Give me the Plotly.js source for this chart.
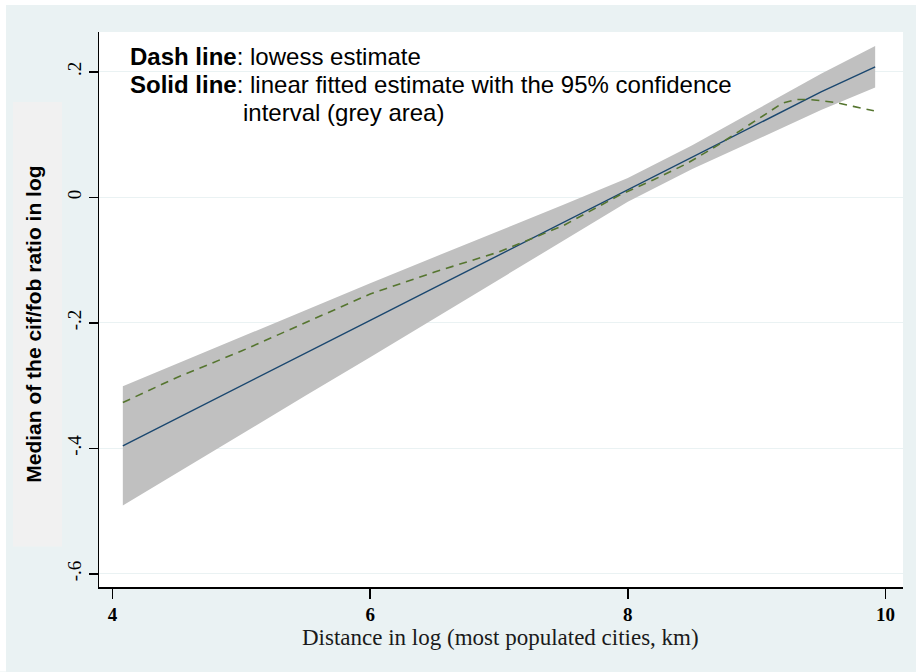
<!DOCTYPE html>
<html>
<head>
<meta charset="utf-8">
<script src="https://cdn.plot.ly/plotly-3.0.1.min.js"></script>
<style>
  html, body { margin: 0; padding: 0; background: #ffffff; }
  #chart { width: 916px; height: 672px; }
</style>
</head>
<body>
<div id="chart"></div>
<script>
// ---- data ----
var fitX      = [4.08, 4.5, 5.0, 5.5, 6.0, 6.5, 7.0, 7.5, 8.0, 8.5, 9.0, 9.5, 9.92];
var fitY      = [-0.396, -0.352, -0.300, -0.248, -0.196, -0.144, -0.092, -0.040, 0.012, 0.064, 0.116, 0.168, 0.208];
var ciUpper   = [-0.301, -0.265, -0.222, -0.180, -0.137, -0.095, -0.054, -0.012, 0.031, 0.083, 0.140, 0.197, 0.241];
var ciLower   = [-0.491, -0.439, -0.378, -0.316, -0.255, -0.193, -0.130, -0.068, -0.007, 0.045, 0.092, 0.139, 0.175];

var lowessX   = [4.08, 4.5, 5.0, 5.5, 6.0, 6.5, 7.0, 7.5, 7.94, 8.2, 8.46, 8.69, 8.97, 9.10, 9.20, 9.31, 9.40, 9.50, 9.62, 9.75, 9.91];
var lowessY   = [-0.327, -0.287, -0.245, -0.199, -0.154, -0.119, -0.087, -0.045, 0.004, 0.028, 0.054, 0.082, 0.119, 0.137, 0.150, 0.156, 0.156, 0.154, 0.151, 0.145, 0.138];

var xTickVals = [4, 6, 8, 10];
var xTickText = ['4', '6', '8', '10'];
var yTickVals = [-0.6, -0.4, -0.2, 0, 0.2];
var yTickText = ['-.6', '-.4', '-.2', '0', '.2'];

var noteLine1 = '<b>Dash line</b>: lowess estimate';
var noteLine2 = '<b>Solid line</b>: linear fitted estimate with the 95% confidence';
var noteLine3 = 'interval (grey area)';
var xTitle = 'Distance in log (most populated cities, km)';
var yTitle = 'Median of the cif/fob ratio in log';

// ---- geometry helpers (pixel -> paper) ----
var L = 99, R = 903, T = 32, B = 587.5, W = 916, H = 672;
function px(x) { return (x - L) / (R - L); }
function py(y) { return (B - y) / (B - T); }

var traces = [
  { x: fitX, y: ciLower, type: 'scatter', mode: 'lines', line: { width: 0, color: '#c0c0c0' }, hoverinfo: 'skip', showlegend: false },
  { x: fitX, y: ciUpper, type: 'scatter', mode: 'lines', fill: 'tonexty', fillcolor: '#c0c0c0', line: { width: 0, color: '#c0c0c0' }, hoverinfo: 'skip', showlegend: false },
  { x: fitX, y: fitY, type: 'scatter', mode: 'lines', line: { color: '#1a476f', width: 1.4 }, showlegend: false },
  { x: lowessX, y: lowessY, type: 'scatter', mode: 'lines', line: { color: '#55752f', width: 1.6, dash: '8px,6px' }, showlegend: false }
];

var serif = 'Liberation Serif, Times New Roman, serif';
var sans = 'Liberation Sans, Arial, Helvetica, sans-serif';

var layout = {
  width: W, height: H,
  margin: { l: L, r: W - R, t: T, b: H - B, pad: 0 },
  paper_bgcolor: '#eaf2f3',
  plot_bgcolor: '#ffffff',
  showlegend: false,
  xaxis: {
    range: [3.895, 10.136],
    tickvals: xTickVals, ticktext: xTickText,
    ticks: 'outside', ticklen: 10, tickwidth: 1.5, tickcolor: '#000000',
    showline: true, linecolor: '#000000', linewidth: 1.5,
    showgrid: false, zeroline: false,
    tickfont: { family: serif, size: 19, color: '#000000', weight: 'bold' }
  },
  yaxis: {
    range: [-0.621, 0.2635],
    tickvals: yTickVals, ticktext: yTickText,
    tickangle: -90,
    ticks: 'outside', ticklen: 9, tickwidth: 1.5, tickcolor: '#000000',
    showline: true, linecolor: '#000000', linewidth: 1.5,
    showgrid: true, gridcolor: '#eaf2f3', gridwidth: 1.2,
    zeroline: false,
    tickfont: { family: serif, size: 19, color: '#000000' }
  },
  shapes: [
    { type: 'rect', xref: 'paper', yref: 'paper', x0: px(0), x1: px(W), y0: py(0), y1: py(5), fillcolor: '#ffffff', line: { width: 0 }, layer: 'below' },
    { type: 'rect', xref: 'paper', yref: 'paper', x0: px(0), x1: px(6), y0: py(0), y1: py(H), fillcolor: '#ffffff', line: { width: 0 }, layer: 'below' },
    { type: 'rect', xref: 'paper', yref: 'paper', x0: px(13), x1: px(62), y0: py(102), y1: py(547), fillcolor: '#f1f1f1', line: { width: 0 }, layer: 'below' }
  ],
  annotations: [
    { xref: 'paper', yref: 'paper', x: px(128), y: py(57), xanchor: 'left', yanchor: 'middle', showarrow: false, text: noteLine1, font: { family: sans, size: 24, color: '#000000' } },
    { xref: 'paper', yref: 'paper', x: px(128), y: py(85), xanchor: 'left', yanchor: 'middle', showarrow: false, text: noteLine2, font: { family: sans, size: 24, color: '#000000' } },
    { xref: 'paper', yref: 'paper', x: px(241), y: py(113), xanchor: 'left', yanchor: 'middle', showarrow: false, text: noteLine3, font: { family: sans, size: 24, color: '#000000' } },
    { xref: 'paper', yref: 'paper', x: px(500), y: py(638), xanchor: 'center', yanchor: 'middle', showarrow: false, text: xTitle, font: { family: serif, size: 23, color: '#1a1a1a' } },
    { xref: 'paper', yref: 'paper', x: px(34), y: py(325), xanchor: 'center', yanchor: 'middle', textangle: -90, showarrow: false, text: '<b>' + yTitle + '</b>', font: { family: sans, size: 21, color: '#000000' } }
  ]
};

Plotly.newPlot('chart', traces, layout, { displayModeBar: false, staticPlot: true });
</script>
</body>
</html>
